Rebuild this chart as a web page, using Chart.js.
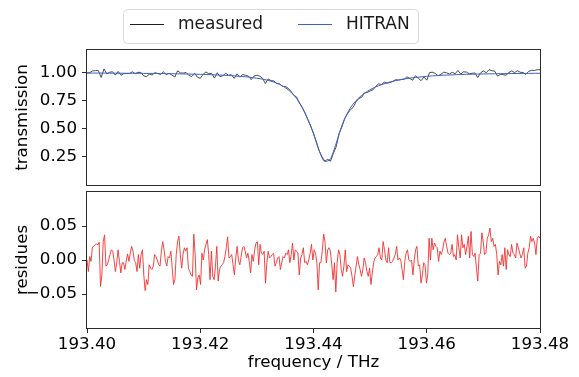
<!DOCTYPE html>
<html>
<head>
<meta charset="utf-8">
<script src="https://cdn.jsdelivr.net/npm/chart.js@4.4.1/dist/chart.umd.min.js"></script>
<style>
    html, body { margin: 0; padding: 0; background: #fff; }
    #wrap { position: relative; width: 579px; height: 377px; }
    #wrap canvas { position: absolute; left: 0; top: 0; }
</style>
</head>
<body>
<div id="wrap">
    <canvas id="transChart" width="579" height="377"></canvas>
    <canvas id="residChart" width="579" height="377"></canvas>
</div>
<script>
// frequency axis (THz)
const freqMin = 193.40;
const freqMax = 193.48;
const freqTicks = [193.40, 193.42, 193.44, 193.46, 193.48];
const transTicks = [0.25, 0.50, 0.75, 1.00];
const residTicks = [-0.05, 0.00, 0.05];

// HITRAN model, one value every 0.001 THz
const hitranStep = 0.001;
const hitran = [
    0.995, 0.995, 0.995, 0.995, 0.994, 0.994, 0.994, 0.993, 0.993, 0.993,
    0.992, 0.992, 0.991, 0.991, 0.990, 0.989, 0.988, 0.987, 0.986, 0.985,
    0.984, 0.982, 0.980, 0.978, 0.976, 0.973, 0.970, 0.966, 0.962, 0.956,
    0.949, 0.941, 0.930, 0.915, 0.895, 0.866, 0.826, 0.770, 0.690, 0.585,
    0.455, 0.305, 0.210, 0.235, 0.370, 0.525, 0.640, 0.720, 0.775, 0.815,
    0.848, 0.872, 0.892, 0.908, 0.922, 0.933, 0.942, 0.950, 0.956, 0.961,
    0.966, 0.970, 0.973, 0.976, 0.978, 0.980, 0.982, 0.984, 0.985, 0.986,
    0.987, 0.988, 0.989, 0.990, 0.990, 0.991, 0.991, 0.992, 0.992, 0.993, 0.993
];

// measured transmission, one value every 0.0005 THz
const measuredStep = 0.0005;
const measured = [
    0.995, 1.000, 1.014, 1.017, 1.017, 0.956, 1.032, 0.988, 1.002, 1.007,
    0.977, 1.009, 0.975, 0.990, 0.991, 0.991, 1.006, 0.989, 1.001, 1.001,
    0.970, 0.963, 0.985, 0.978, 0.999, 0.991, 0.982, 1.006, 0.981, 0.993,
    0.977, 0.960, 1.015, 0.996, 0.995, 1.000, 0.974, 0.964, 0.993, 0.959,
    0.948, 0.983, 1.005, 0.989, 0.993, 0.950, 0.998, 0.963, 0.972, 0.993,
    0.976, 0.980, 0.948, 0.988, 0.959, 0.982, 0.975, 0.969, 0.937, 0.968,
    0.976, 0.968, 0.949, 0.902, 0.943, 0.928, 0.925, 0.901, 0.900, 0.877,
    0.876, 0.861, 0.834, 0.798, 0.783, 0.730, 0.690, 0.640, 0.580, 0.525,
    0.460, 0.385, 0.305, 0.250, 0.212, 0.228, 0.212, 0.280, 0.340, 0.455,
    0.515, 0.590, 0.633, 0.668, 0.690, 0.739, 0.768, 0.780, 0.818, 0.822,
    0.836, 0.846, 0.877, 0.900, 0.892, 0.915, 0.904, 0.911, 0.920, 0.936,
    0.933, 0.938, 0.940, 0.961, 0.948, 0.931, 0.971, 0.950, 0.927, 0.960,
    0.932, 1.000, 1.002, 0.992, 0.971, 0.983, 1.003, 0.997, 0.986, 1.002,
    0.988, 1.018, 0.985, 1.006, 1.004, 0.988, 0.993, 0.996, 0.955, 0.997,
    1.014, 0.998, 1.025, 1.016, 1.012, 0.968, 0.983, 0.981, 0.976, 0.999,
    1.014, 0.999, 1.016, 1.002, 1.000, 0.983, 1.010, 1.020, 1.018, 1.025, 1.025
];

// residues, evenly spread over the frequency range
const residues = [
    0.000, -0.017, 0.005, -0.002, 0.019, 0.020, 0.022, 0.024, 0.022, 0.026,
    -0.039, -0.022, 0.027, 0.037, -0.009, -0.007, 0.000, 0.008, 0.015, 0.013,
    0.000, -0.017, -0.004, 0.015, -0.002, -0.019, -0.004, -0.004, -0.014, -0.002,
    0.009, -0.002, 0.010, 0.020, 0.013, -0.001, -0.004, -0.017, 0.008, -0.012,
    0.008, 0.015, -0.022, -0.045, -0.029, -0.036, -0.007, -0.012, -0.014, -0.009,
    0.008, 0.005, 0.000, -0.007, -0.009, 0.013, 0.027, 0.015, -0.002, -0.009,
    0.005, 0.003, 0.013, -0.012, -0.036, -0.029, 0.008, 0.027, 0.035, 0.008,
    -0.012, 0.008, 0.018, 0.013, 0.018, -0.012, -0.017, -0.022, -0.024, 0.038,
    0.008, -0.044, -0.026, -0.022, -0.036, 0.010, 0.000,
    0.015, 0.023, 0.030, 0.008, -0.029, 0.013, -0.024, -0.029, -0.009, 0.020,
    -0.031, -0.014, -0.009, -0.007, -0.004, 0.005, 0.018, 0.034, 0.003, 0.005,
    0.008, -0.007, -0.022, 0.003, 0.020, 0.000, -0.007, 0.005, 0.018, 0.020,
    0.013, 0.003, 0.010, -0.002, -0.019, 0.008, -0.002, 0.015, 0.025, 0.027,
    -0.007, 0.023, 0.010, 0.008, 0.013, -0.034, -0.004, 0.013, 0.003, 0.005,
    0.008, 0.010, -0.009, -0.004, 0.003, 0.005, -0.014, -0.004, 0.005, 0.003,
    0.010, 0.008, 0.015, -0.004, 0.008, 0.025, 0.000, 0.015, 0.013, 0.010,
    -0.022, 0.003, 0.008, 0.018, -0.004, -0.002, -0.007, 0.000, 0.010, 0.023,
    0.000,
    0.015, 0.010, -0.004, -0.044, -0.004, -0.004, 0.013, 0.038, 0.027, -0.004,
    0.015, 0.018, 0.013, -0.007, -0.029, -0.004, -0.047, -0.004, 0.015, 0.008,
    -0.014, -0.024, -0.009, 0.015, -0.017, -0.007, -0.009, -0.012, -0.024, -0.039,
    -0.024, -0.009, 0.005, -0.007, -0.014, -0.024, -0.014, 0.003, -0.004, -0.017,
    -0.024, -0.012, -0.036, -0.019, -0.004, 0.003, 0.005, 0.008, 0.018, 0.003,
    0.000, 0.027, 0.015, 0.000, -0.004, 0.018, -0.004, -0.004, -0.002, 0.003,
    0.008, 0.020, 0.000, 0.003, 0.000, -0.014, -0.029, -0.002, 0.010, 0.015,
    0.000, -0.002, 0.000, -0.022, 0.000, 0.015, 0.020, -0.009, -0.007, -0.034,
    -0.022, -0.004, -0.007, -0.034, -0.022, 0.032, 0.000,
    0.032, 0.015, 0.025, 0.020, 0.018, -0.002, 0.013, 0.008, 0.015, 0.027,
    0.032, 0.020, 0.010, 0.008, 0.010, 0.023, 0.005, 0.008, 0.000, 0.037,
    0.018, 0.003, 0.037, 0.018, 0.023, 0.008, 0.020, 0.035, 0.003, 0.042,
    0.008, 0.005, 0.010, -0.012, -0.031, 0.008, 0.010, 0.040, 0.027, 0.008,
    0.010, 0.032, 0.037, 0.047, 0.027, 0.032, 0.020, 0.023, 0.008, -0.022,
    -0.002, -0.007, 0.008, -0.009, 0.018, -0.014, 0.015, 0.008, 0.005, 0.023,
    0.010, 0.008, 0.003, 0.025, 0.018, 0.010, 0.003, 0.008, 0.018, -0.012,
    -0.009, 0.010, 0.018, 0.035, 0.027, 0.032, 0.025, 0.008, 0.032, 0.035,
    0.032
];

document.addEventListener('DOMContentLoaded', function() {
    if (typeof Chart === 'undefined') {
        console.error('Chart.js not loaded');
        return;
    }

    const FONT = "'DejaVu Sans', sans-serif";
    const FS = 16.7;
    Chart.defaults.font.family = FONT;
    Chart.defaults.font.size = FS;
    Chart.defaults.color = '#000';

    const toPoints = (vals, step) => vals.map((v, i) => ({ x: freqMin + i * step, y: v }));
    const residStep = (freqMax - freqMin) / (residues.length - 1);

    // box around the plot area (all four sides)
    const frameBox = {
        id: 'frameBox',
        afterDraw(chart) {
            const { ctx, chartArea: a } = chart;
            ctx.save();
            ctx.strokeStyle = '#2b2b2b';
            ctx.lineWidth = 1;
            ctx.strokeRect(Math.round(a.left) - 0.5, Math.round(a.top) - 0.5,
                           Math.round(a.right - a.left) + 1, Math.round(a.bottom - a.top) + 1);
            ctx.restore();
        }
    };

    // matplotlib-like legend in a rounded box
    const boxLegend = {
        id: 'boxLegend',
        afterDraw(chart) {
            const ctx = chart.ctx;
            const ds = chart.data.datasets;
            ctx.save();
            ctx.beginPath();
            ctx.roundRect(123.5, 9.5, 295, 34, 4);
            ctx.fillStyle = 'rgba(255,255,255,0.8)';
            ctx.fill();
            ctx.strokeStyle = '#d9d9d9';
            ctx.lineWidth = 1;
            ctx.stroke();
            const items = [{ x: 130, tx: 178 }, { x: 298, tx: 346 }];
            ctx.font = '17px ' + FONT;
            ctx.textBaseline = 'middle';
            items.forEach((it, i) => {
                ctx.beginPath();
                ctx.moveTo(it.x, 24.5);
                ctx.lineTo(it.x + 34, 24.5);
                ctx.strokeStyle = ds[i].borderColor;
                ctx.lineWidth = 1;
                ctx.stroke();
                ctx.fillStyle = '#1a1a1a';
                ctx.fillText(ds[i].label, it.tx, 25);
            });
            ctx.restore();
        }
    };

    const yAxisCommon = (ticks, fmt, title) => ({
        afterFit(scale) { scale.width = 87; },
        afterBuildTicks(scale) { scale.ticks = ticks.map(v => ({ value: v })); },
        ticks: { callback: fmt, padding: 5, color: '#000' },
        grid: { drawOnChartArea: false, tickLength: 5, color: '#2b2b2b' },
        border: { display: false },
        title: { display: true, text: title, padding: { top: 13, bottom: 0 }, color: '#000' }
    });

    new Chart(document.getElementById('transChart'), {
        type: 'line',
        data: {
            datasets: [
                {
                    label: 'measured',
                    data: toPoints(measured, measuredStep),
                    borderColor: '#1e1e1e',
                    borderWidth: 0.8,
                    pointRadius: 0,
                    tension: 0,
                    order: 1
                },
                {
                    label: 'HITRAN',
                    data: toPoints(hitran, hitranStep),
                    borderColor: '#3c62cc',
                    borderWidth: 1,
                    pointRadius: 0,
                    cubicInterpolationMode: 'monotone',
                    order: 0
                }
            ]
        },
        options: {
            responsive: false,
            animation: false,
            layout: { padding: { left: 0, right: 39, top: 50, bottom: 192 } },
            plugins: { legend: { display: false }, tooltip: { enabled: false } },
            scales: {
                x: { type: 'linear', min: freqMin, max: freqMax, display: false },
                y: Object.assign({ min: 0, max: 1.2 },
                    yAxisCommon(transTicks, v => v.toFixed(2), 'transmission'))
            }
        },
        plugins: [frameBox, boxLegend]
    });

    new Chart(document.getElementById('residChart'), {
        type: 'line',
        data: {
            datasets: [{
                label: 'residues',
                data: toPoints(residues, residStep),
                borderColor: '#f23030',
                borderWidth: 0.9,
                pointRadius: 0,
                tension: 0
            }]
        },
        options: {
            responsive: false,
            animation: false,
            layout: { padding: { left: 0, right: 39, top: 192, bottom: 0 } },
            plugins: { legend: { display: false }, tooltip: { enabled: false } },
            scales: {
                x: {
                    type: 'linear',
                    min: freqMin,
                    max: freqMax,
                    afterFit(scale) { scale.height = 49; },
                    afterBuildTicks(scale) { scale.ticks = freqTicks.map(v => ({ value: v })); },
                    ticks: { callback: v => v.toFixed(2), padding: 2, maxRotation: 0, color: '#000' },
                    grid: { drawOnChartArea: false, tickLength: 5, color: '#2b2b2b' },
                    border: { display: false },
                    title: { display: true, text: 'frequency / THz', padding: { top: 0, bottom: 4 }, color: '#000' }
                },
                y: Object.assign({ min: -0.1, max: 0.1 },
                    yAxisCommon(residTicks, v => (v < 0 ? '\u2212' : '') + Math.abs(v).toFixed(2), 'residues'))
            }
        },
        plugins: [frameBox]
    });
});
</script>
</body>
</html>
